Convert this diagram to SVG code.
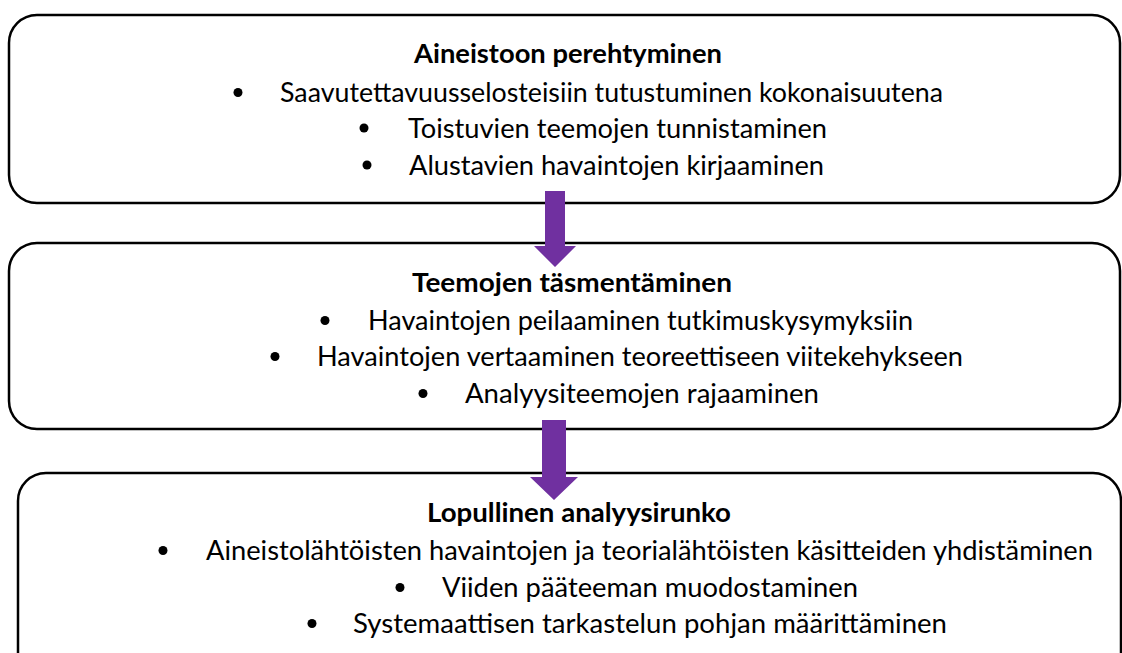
<svg xmlns="http://www.w3.org/2000/svg" width="1122" height="653" viewBox="0 0 1122 653">
<style>
.box{fill:#fff;stroke:#000;stroke-width:2.5}
.t{font-family:Lato,"Liberation Sans",sans-serif;font-size:27px;fill:#000}
.h{font-weight:bold}
.b{fill:#000}
.arr{fill:#7030A0}
</style>
<g id="node1">
<rect class="box" x="9" y="15" width="1111" height="188" rx="28"/>
<text class="t h" x="414" y="63" textLength="308" lengthAdjust="spacingAndGlyphs">Aineistoon perehtyminen</text>
<circle class="b" cx="238" cy="92.5" r="4.5"/>
<text class="t" x="280" y="102" textLength="663" lengthAdjust="spacingAndGlyphs">Saavutettavuusselosteisiin tutustuminen kokonaisuutena</text>
<circle class="b" cx="364" cy="128" r="4.5"/>
<text class="t" x="408" y="137.5" textLength="419" lengthAdjust="spacingAndGlyphs">Toistuvien teemojen tunnistaminen</text>
<circle class="b" cx="367" cy="165" r="4.5"/>
<text class="t" x="409" y="174.5" textLength="415" lengthAdjust="spacingAndGlyphs">Alustavien havaintojen kirjaaminen</text>
</g>
<g id="node2">
<rect class="box" x="9" y="243" width="1111" height="186" rx="28"/>
<text class="t h" x="412" y="292" textLength="320" lengthAdjust="spacingAndGlyphs">Teemojen täsmentäminen</text>
<circle class="b" cx="325" cy="320.5" r="4.5"/>
<text class="t" x="368" y="330" textLength="545" lengthAdjust="spacingAndGlyphs">Havaintojen peilaaminen tutkimuskysymyksiin</text>
<circle class="b" cx="275" cy="356.5" r="4.5"/>
<text class="t" x="317" y="366" textLength="646" lengthAdjust="spacingAndGlyphs">Havaintojen vertaaminen teoreettiseen viitekehykseen</text>
<circle class="b" cx="423" cy="393.5" r="4.5"/>
<text class="t" x="465" y="403" textLength="354" lengthAdjust="spacingAndGlyphs">Analyysiteemojen rajaaminen</text>
</g>
<g id="node3">
<rect class="box" x="18" y="473" width="1103" height="210" rx="28"/>
<text class="t h" x="427" y="522" textLength="304" lengthAdjust="spacingAndGlyphs">Lopullinen analyysirunko</text>
<circle class="b" cx="163" cy="550.5" r="4.5"/>
<text class="t" x="206" y="560" textLength="887" lengthAdjust="spacingAndGlyphs">Aineistolähtöisten havaintojen ja teorialähtöisten käsitteiden yhdistäminen</text>
<circle class="b" cx="400" cy="587.5" r="4.5"/>
<text class="t" x="442" y="597" textLength="416" lengthAdjust="spacingAndGlyphs">Viiden pääteeman muodostaminen</text>
<circle class="b" cx="312" cy="623.5" r="4.5"/>
<text class="t" x="353" y="633" textLength="594" lengthAdjust="spacingAndGlyphs">Systemaattisen tarkastelun pohjan määrittäminen</text>
</g>
<g id="connectors">
<polygon class="arr" points="545,191 565,191 565,246 576,246 555,267 534,246 545,246"/>
<polygon class="arr" points="542,420 566,420 566,477 578,477 554,500 530,477 542,477"/>
</g>
</svg>
